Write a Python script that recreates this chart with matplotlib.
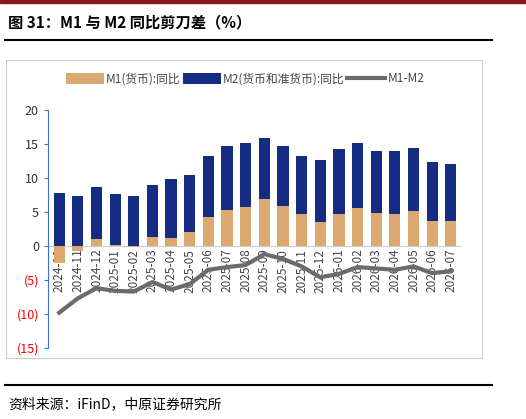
import matplotlib
matplotlib.use("Agg")
import matplotlib.pyplot as plt
import numpy as np
from matplotlib.lines import Line2D
plt.rcParams['font.family'] = ['Noto Sans CJK SC', 'DejaVu Sans']

months = ["2024-10","2024-11","2024-12","2025-01","2025-02","2025-03","2025-04","2025-05","2025-06","2025-07","2025-08","2025-09","2025-10","2025-11","2025-12","2026-01","2026-02","2026-03","2026-04","2026-05","2026-06","2026-07"]
m1 = [-2.5,-0.7,1.0,0.1,-0.1,1.3,1.2,2.0,4.3,5.3,5.7,6.9,5.9,4.7,3.5,4.7,5.6,4.8,4.7,5.2,3.7,3.7]
top = [7.8,7.4,8.7,7.7,7.4,8.9,9.8,10.5,13.2,14.7,15.1,15.9,14.7,13.2,12.6,14.2,15.2,13.9,13.9,14.4,12.3,12.0]
diff = [-9.8,-7.7,-6.2,-6.6,-6.7,-5.3,-6.4,-5.6,-3.5,-3.1,-2.8,-1.2,-1.9,-3.0,-4.6,-4.1,-3.1,-3.3,-3.5,-3.0,-4.0,-3.7]
yticks = [20,15,10,5,0,-5,-10,-15]

W,H = 526,419
fig = plt.figure(figsize=(W/100,H/100),dpi=100)
fig.patches.append(plt.Rectangle((0,1-3/H),1,3/H,transform=fig.transFigure,color='#8b1a1a'))
fig.text(8/W,1-22/H,"图 31：M1 与 M2 同比剪刀差（%）",fontsize=11,fontweight='bold',va='center')
fig.add_artist(Line2D([5/W,492/W],[1-40/H,1-40/H],color='black',lw=1.5))
fig.add_artist(Line2D([5/W,492/W],[1-385/H,1-385/H],color='black',lw=1.5))
fig.text(8/W,1-404/H,"资料来源：iFinD，中原证券研究所",fontsize=10,va='center')
fig.patches.append(plt.Rectangle((6/W,1-358/H),476/W,298/H,transform=fig.transFigure,fill=False,ec='#cccccc',lw=0.8))

ax = fig.add_axes([48/W,1-348/H,(462-48)/W,(348-110)/H])
x = np.arange(len(months))
base = [max(v,0) for v in m1]
m2seg = [t-b for t,b in zip(top,base)]
b1 = ax.bar(x,m1,width=0.6,color='#dba870',zorder=2)
b2 = ax.bar(x,m2seg,bottom=base,width=0.6,color='#142c82',zorder=2)
ln, = ax.plot(x,diff,color='#6b6b6b',lw=3,zorder=3)
ax.axhline(0,color='#cccccc',lw=0.8,zorder=1)
ax.set_ylim(-15,20)
ax.set_xlim(-0.6,len(months)-0.4)
ax.set_yticks(yticks)
ax.set_yticklabels([str(v) if v>=0 else f"({-v})" for v in yticks],fontsize=9)
for lab,v in zip(ax.get_yticklabels(),yticks):
    lab.set_color('red' if v<0 else '#333333')
ax.set_xticks([])
for xi,m in zip(x,months):
    ax.text(xi,-0.4,m,rotation=90,ha='center',va='top',fontsize=8.5,color='#444444',zorder=1)
for s in ['top','right','bottom']:
    ax.spines[s].set_visible(False)
ax.spines['left'].set_color('#3a6fd8')
ax.tick_params(axis='y',color='#3a6fd8',length=3)
fig.legend([b1,b2,ln],['M1(货币):同比','M2(货币和准货币):同比','M1-M2'],
           loc='center',bbox_to_anchor=(245/W,1-79/H),ncol=3,frameon=False,fontsize=8.5,
           handlelength=3.2,handleheight=1.1,handletextpad=0.2,columnspacing=0.2,labelcolor='#444444')
fig.savefig('out.png',dpi=100)
